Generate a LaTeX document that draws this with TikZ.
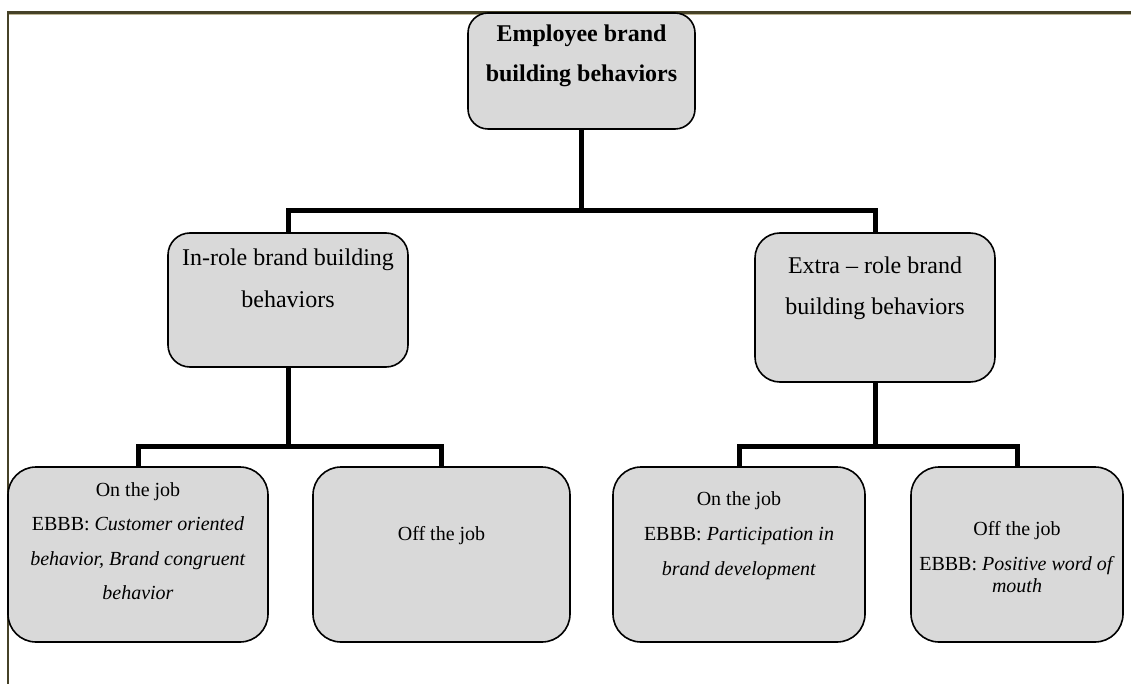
\documentclass[tikz,border=0pt]{standalone}
\usepackage{fontspec}
\setmainfont{Liberation Serif}
\definecolor{frameline}{RGB}{70,66,40}
\definecolor{frameedge}{RGB}{190,182,150}
\definecolor{boxfill}{RGB}{217,217,217}
\begin{document}
\begin{tikzpicture}[x=1pt,y=-1pt,
  box/.style={draw=black, fill=boxfill, line width=1.6pt, inner sep=0pt, outer sep=0pt},
  link/.style={line width=5pt, black},
  big/.style={anchor=base, inner sep=0pt, font=\fontsize{24}{28}\selectfont},
  small/.style={anchor=base, inner sep=0pt, font=\fontsize{20}{24}\selectfont}]
\useasboundingbox (0,0) rectangle (1131,684);

% page frame
\draw[frameedge, line width=1.2pt] (9,14.8) -- (1131,14.8);
\draw[frameline, line width=2.8pt] (8,684) -- (8,12.3) -- (1131,12.3);

% boxes
\node[box, minimum width=227pt, minimum height=116pt, rounded corners=20pt] (top) at (581.5,71) {};
\node[box, minimum width=240pt, minimum height=134pt, rounded corners=22pt] (inrole) at (288,300) {};
\node[box, minimum width=240pt, minimum height=149pt, rounded corners=25pt] (extra) at (875,307.5) {};
\node[box, minimum width=260pt, minimum height=175pt, rounded corners=28pt] (onA) at (138,554.5) {};
\node[box, minimum width=257pt, minimum height=175pt, rounded corners=28pt] (offA) at (441.5,554.5) {};
\node[box, minimum width=252pt, minimum height=175pt, rounded corners=28pt] (onB) at (739,554.5) {};
\node[box, minimum width=212pt, minimum height=175pt, rounded corners=28pt] (offB) at (1017,554.5) {};

% connectors
\coordinate (j1) at (581.5,211);
\coordinate (j2) at (288,446);
\coordinate (j3) at (875,446);
\draw[link] (top.south) -- (j1);
\draw[link] (inrole.north) |- (j1) -| (extra.north);
\draw[link] (inrole.south) -- (j2);
\draw[link] (onA.north) |- (j2) -| (offA.north);
\draw[link] (extra.south) -- (j3);
\draw[link] (onB.north) |- (j3) -| (offB.north);

% labels
\node[big, font=\fontsize{24}{28}\selectfont\bfseries] (topa) at (581.5,41.7) {Employee brand};
\node[big, font=\fontsize{24}{28}\selectfont\bfseries] (topb) at (581.5,81.7) {building behaviors};

\node[big] (ina) at (288,266) {In-role brand building};
\node[big] (inb) at (288,307) {behaviors};

\node[big] (exa) at (875,273) {Extra – role brand};
\node[big] (exb) at (875,314) {building behaviors};

\node[small] (onAa) at (138,496) {On the job};
\node[small] (onAb) at (138,530.5) {EBBB: \textit{Customer oriented}};
\node[small] (onAc) at (138,565) {\textit{behavior, Brand congruent}};
\node[small] (onAd) at (138,599.5) {\textit{behavior}};

\node[small] (offAa) at (441.5,540.7) {Off the job};

\node[small] (onBa) at (739,505) {On the job};
\node[small] (onBb) at (739,540.5) {EBBB: \textit{Participation in}};
\node[small] (onBc) at (739,575) {\textit{brand development}};

\node[small] (offBa) at (1017,535) {Off the job};
\node[small] (offBb) at (1017,570) {EBBB: \textit{Positive word of}};
\node[small] (offBc) at (1017,592) {\textit{mouth}};
\end{tikzpicture}
\end{document}
